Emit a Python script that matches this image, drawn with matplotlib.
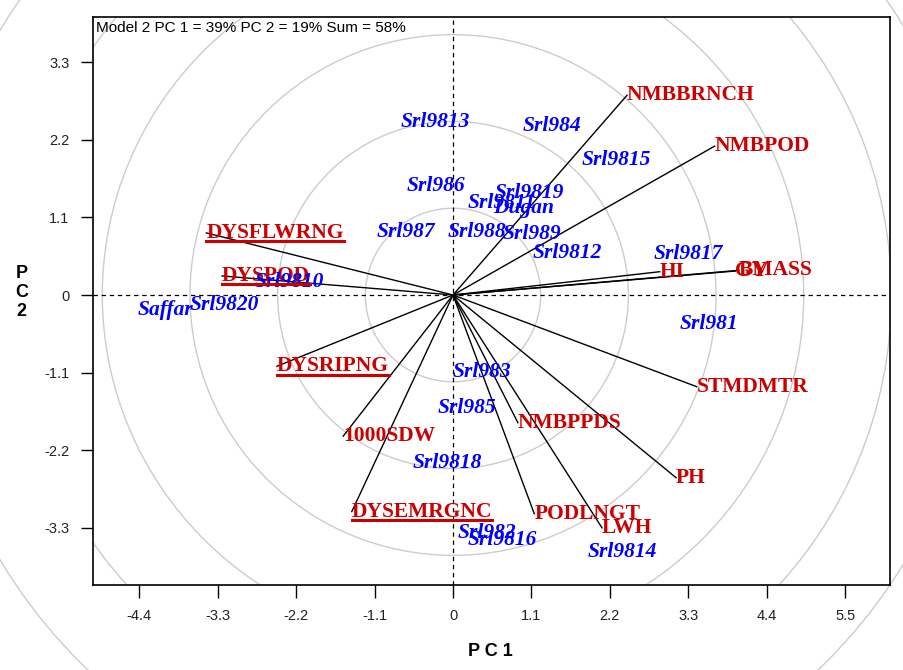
import numpy as np
import matplotlib
matplotlib.use("Agg")
import matplotlib.pyplot as plt
from matplotlib.patches import Circle
from matplotlib.lines import Line2D
from matplotlib.transforms import IdentityTransform

# Variables (vector end points, PC1 / PC2)
traits = ["NMBBRNCH", "NMBPOD", "GY", "BMASS", "HI", "STMDMTR", "PH", "LWH",
          "PODLNGT", "NMBPPDS", "1000SDW", "DYSEMRGNC", "DYSRIPNG", "DYSFLWRNG", "DYSPOD"]
trait_pc1 = [2.44, 3.67, 3.96, 4.01, 2.90, 3.42, 3.13, 2.09,
             1.14, 0.91, -1.54, -1.42, -2.47, -3.46, -3.24]
trait_pc2 = [2.83, 2.11, 0.34, 0.35, 0.33, -1.30, -2.59, -3.30,
             -3.10, -1.81, -2.00, -3.07, -1.01, 0.88, 0.27]
underlined = ["DYSEMRGNC", "DYSRIPNG", "DYSFLWRNG", "DYSPOD"]

# Genotypes
genos = ["Srl9813", "Srl984", "Srl9815", "Srl986", "Srl9819", "Srl9811", "Dugan",
         "Srl987", "Srl988", "Srl989", "Srl9812", "Srl9817", "Srl981", "Srl9810",
         "Saffar", "Srl9820", "Srl983", "Srl985", "Srl9818", "Srl982", "Srl9816", "Srl9814"]
geno_pc1 = [-0.74, 0.97, 1.81, -0.65, 0.59, 0.20, 0.56,
            -1.07, -0.07, 0.70, 1.12, 2.81, 3.18, -2.78,
            -4.43, -3.69, 0.00, -0.22, -0.56, 0.07, 0.20, 1.89]
geno_pc2 = [2.45, 2.39, 1.91, 1.54, 1.44, 1.30, 1.23,
            0.89, 0.89, 0.86, 0.59, 0.58, -0.41, 0.18,
            -0.21, -0.14, -1.09, -1.60, -2.38, -3.37, -3.47, -3.64]

ticks = [-4.4, -3.3, -2.2, -1.1, 0, 1.1, 2.2, 3.3, 4.4, 5.5]
yticks = [-3.3, -2.2, -1.1, 0, 1.1, 2.2, 3.3]
ring_step = 1.23

fig = plt.figure(figsize=(9.04, 6.70), dpi=100)
ax = fig.add_axes([0.1029, 0.1269, 0.9845 - 0.1029, 0.9746 - 0.1269])
ax.set_xlim(-5.05, 6.13)
ax.set_ylim(-4.11, 3.94)

# concentric circles; the outer ones run past the frame into the corners
for k in range(1, 9):
    c = Circle((0, 0), ring_step * k, fill=False, ec="#cccccc", lw=1.0,
               clip_on=(k < 6), zorder=0)
    ax.add_patch(c)

ax.axhline(0, color="black", lw=0.9, ls=(0, (3.5, 3)), zorder=1)
ax.axvline(0, color="black", lw=0.9, ls=(0, (3.5, 3)), zorder=1)

serif = "Liberation Serif"
fs = 15.5

for name, x, y in zip(traits, trait_pc1, trait_pc2):
    ax.plot([0, x], [0, y], color="black", lw=1.0, zorder=2)

trait_texts = {}
for name, x, y in zip(traits, trait_pc1, trait_pc2):
    t = ax.text(x, y, name, color="#cc0000", fontsize=fs, family=serif,
                fontweight="bold", ha="left", va="center", zorder=3)
    trait_texts[name] = t

for name, x, y in zip(genos, geno_pc1, geno_pc2):
    ax.text(x, y, name, color="#0000ff", fontsize=fs, family=serif,
            fontweight="bold", style="italic", ha="left", va="center", zorder=4)

ax.text(0.004, 0.993, "Model 2 PC 1 = 39% PC 2 = 19% Sum = 58%",
        transform=ax.transAxes, ha="left", va="top", fontsize=11,
        family="Liberation Sans", color="black")

ax.set_xticks(ticks)
ax.set_xticklabels([("%g" % v) for v in ticks])
ax.set_yticks(yticks)
ax.set_yticklabels([("%g" % v) for v in yticks])
ax.tick_params(direction="out", length=9, width=1.0, labelsize=10.5, pad=8,
               colors="black")
for lab in ax.get_xticklabels() + ax.get_yticklabels():
    lab.set_family("Liberation Sans")
    lab.set_color("#222222")
for s in ax.spines.values():
    s.set_linewidth(1.2)
    s.set_color("black")

fig.text(0.543, 0.027, "P C 1", ha="center", va="center", fontsize=13,
         fontweight="bold", family="Liberation Sans")
fig.text(0.024, 0.563, "P\nC\n2", ha="center", va="center", fontsize=13,
         fontweight="bold", family="Liberation Sans", linespacing=1.15)

# underline selected variable names
fig.canvas.draw()
r = fig.canvas.get_renderer()
for name in underlined:
    bb = trait_texts[name].get_window_extent(r)
    fig.add_artist(Line2D([bb.x0, bb.x1], [bb.y0 + 1.5, bb.y0 + 1.5],
                          transform=IdentityTransform(), color="#cc0000", lw=2.2))

fig.savefig("out.png", dpi=100)
